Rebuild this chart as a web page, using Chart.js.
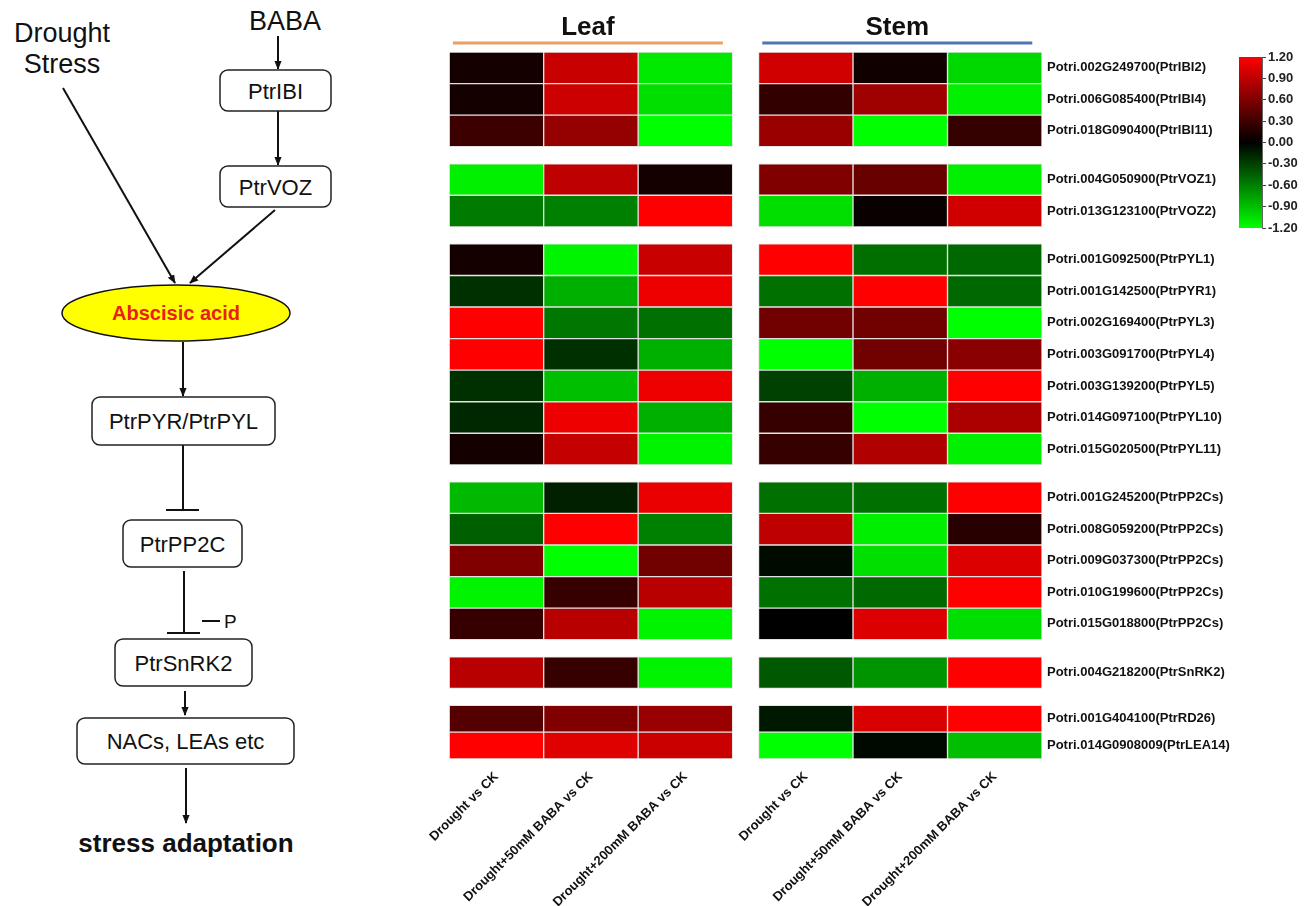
<!DOCTYPE html>
<html>
<head>
<meta charset="utf-8">
<script src="https://cdn.jsdelivr.net/npm/chart.js@4.4.1/dist/chart.umd.min.js"></script>
<style>
  body { margin: 0; background: #fff; width: 1311px; height: 906px; overflow: hidden; position: relative; font-family: 'Liberation Sans', Arial, sans-serif; }
  #flow { position: absolute; left: 0; top: 0; }
  #heatBox { position: absolute; left: 420px; top: 0; width: 810px; height: 906px; }
  #scaleBox { position: absolute; left: 1225px; top: 45px; width: 86px; height: 195px; }
</style>
</head>
<body>

<svg id="flow" width="420" height="906" font-family="'Liberation Sans', Arial, sans-serif" fill="#111">
  <defs>
    <marker id="ah" viewBox="0 0 10 10" refX="9" refY="5" markerWidth="9" markerHeight="9" markerUnits="userSpaceOnUse" orient="auto">
      <path d="M0,1 L10,5 L0,9 z" fill="#111"/>
    </marker>
  </defs>
  <g stroke="#111" stroke-width="2" fill="none">
    <line x1="278" y1="36" x2="278" y2="69" marker-end="url(#ah)"/>
    <line x1="278" y1="111" x2="278" y2="165" marker-end="url(#ah)"/>
    <line x1="63" y1="88" x2="175" y2="283" marker-end="url(#ah)"/>
    <line x1="275" y1="210" x2="190" y2="283" marker-end="url(#ah)"/>
    <line x1="183" y1="342" x2="183" y2="396" marker-end="url(#ah)"/>
    <line x1="183" y1="445" x2="183" y2="510"/>
    <line x1="166" y1="510" x2="199" y2="510"/>
    <line x1="184" y1="571" x2="184" y2="633"/>
    <line x1="167" y1="633" x2="200" y2="633"/>
    <line x1="202" y1="621" x2="220" y2="621"/>
    <line x1="185" y1="691" x2="185" y2="715" marker-end="url(#ah)"/>
    <line x1="186" y1="768" x2="186" y2="823" marker-end="url(#ah)"/>
  </g>
  <g stroke="#222" stroke-width="1.5" fill="#fff">
    <rect x="220" y="70" width="111" height="41" rx="8"/>
    <rect x="220" y="166" width="111" height="41" rx="8"/>
    <rect x="92" y="397" width="183" height="48" rx="8"/>
    <rect x="123" y="520" width="119" height="47" rx="8"/>
    <rect x="115" y="639" width="137" height="47" rx="8"/>
    <rect x="77" y="718" width="217" height="46" rx="8"/>
    <ellipse cx="176" cy="313" rx="114" ry="28" fill="#ffff00" stroke="#111"/>
  </g>
  <g font-size="27" text-anchor="middle">
    <text x="62" y="42">Drought</text>
    <text x="62" y="73">Stress</text>
    <text x="285" y="30">BABA</text>
  </g>
  <g font-size="22" text-anchor="middle">
    <text x="275.5" y="98.5">PtrIBI</text>
    <text x="275.5" y="194.5">PtrVOZ</text>
    <text x="183.5" y="429">PtrPYR/PtrPYL</text>
    <text x="182.5" y="551.5">PtrPP2C</text>
    <text x="183.5" y="670.5">PtrSnRK2</text>
    <text x="185.5" y="749">NACs, LEAs etc</text>
  </g>
  <text x="224" y="628" font-size="19">P</text>
  <text x="176" y="320" font-size="20" font-weight="bold" fill="#e8201a" text-anchor="middle">Abscisic acid</text>
  <text x="186" y="852" font-size="26" font-weight="bold" text-anchor="middle">stress adaptation</text>
</svg>

<div id="heatBox"><canvas id="heat"></canvas></div>
<div id="scaleBox"><canvas id="scale"></canvas></div>

<script>
// gene rows, top to bottom
const genes = [
  'Potri.002G249700(PtrIBI2)', 'Potri.006G085400(PtrIBI4)', 'Potri.018G090400(PtrIBI11)',
  'Potri.004G050900(PtrVOZ1)', 'Potri.013G123100(PtrVOZ2)',
  'Potri.001G092500(PtrPYL1)', 'Potri.001G142500(PtrPYR1)', 'Potri.002G169400(PtrPYL3)',
  'Potri.003G091700(PtrPYL4)', 'Potri.003G139200(PtrPYL5)', 'Potri.014G097100(PtrPYL10)',
  'Potri.015G020500(PtrPYL11)',
  'Potri.001G245200(PtrPP2Cs)', 'Potri.008G059200(PtrPP2Cs)', 'Potri.009G037300(PtrPP2Cs)',
  'Potri.010G199600(PtrPP2Cs)', 'Potri.015G018800(PtrPP2Cs)',
  'Potri.004G218200(PtrSnRK2)',
  'Potri.001G404100(PtrRD26)', 'Potri.014G0908009(PtrLEA14)'
];
const groupSizes = [3, 2, 7, 5, 1, 2];
const conditions = ['Drought vs CK', 'Drought+50mM BABA vs CK', 'Drought+200mM BABA vs CK'];
const tissues = ['Leaf', 'Stem'];

// log2 fold change per gene: [Drought, +50mM BABA, +200mM BABA]
const leafValues = [
  [0.1, 0.94, -1.1], [0.1, 0.96, -1.05], [0.28, 0.7, -1.2],
  [-1.13, 0.9, 0.1], [-0.58, -0.6, 1.2],
  [0.1, -1.15, 0.94], [-0.22, -0.83, 1.12], [1.2, -0.56, -0.53], [1.2, -0.22, -0.83],
  [-0.22, -0.9, 1.12], [-0.19, 1.12, -0.83], [0.1, 0.92, -1.15],
  [-0.87, -0.15, 1.1], [-0.45, 1.2, -0.6], [0.6, -1.2, 0.53], [-1.15, 0.26, 0.87], [0.26, 0.87, -1.15],
  [0.87, 0.26, -1.15],
  [0.4, 0.6, 0.72], [1.2, 1.05, 0.95]
];
const stemValues = [
  [0.98, 0.08, -1.02], [0.24, 0.75, -1.13], [0.72, -1.2, 0.25],
  [0.6, 0.49, -1.13], [-1.05, 0.04, 0.98],
  [1.2, -0.52, -0.49], [-0.53, 1.2, -0.49], [0.53, 0.53, -1.2], [-1.2, 0.53, 0.65],
  [-0.3, -0.83, 1.2], [0.26, -1.2, 0.8], [0.26, 0.83, -1.13],
  [-0.53, -0.53, 1.2], [0.9, -1.12, 0.19], [-0.05, -1.05, 1.04], [-0.53, -0.5, 1.2], [0, 1.04, -1.05],
  [-0.42, -0.7, 1.2],
  [-0.11, 1.02, 1.2], [-1.2, -0.04, -0.9]
];
const colorTicks = [1.2, 0.9, 0.6, 0.3, 0.0, -0.3, -0.6, -0.9, -1.2];

const FONT = "'Liberation Sans', Arial, sans-serif";
const vmax = colorTicks[0];

function valueColor(v) {
  var t = Math.max(-1, Math.min(1, v / vmax));
  if (t >= 0) return 'rgb(' + Math.round(255 * t) + ',0,0)';
  return 'rgb(0,' + Math.round(-255 * t) + ',0)';
}

// row layout in y units (1 unit per row, small gap between families)
const gap = 0.54;
const rowTops = [], rowBottoms = [];
var yPos = 0, k = 0;
groupSizes.forEach(function (n, g) {
  var h = g === groupSizes.length - 1 ? 0.85 : 1;
  for (var i = 0; i < n; i++) {
    rowTops[k] = yPos; rowBottoms[k] = yPos + h;
    yPos += h; k++;
  }
  if (g < groupSizes.length - 1) yPos += gap;
});
const yMax = yPos;
const rowCenters = rowTops.map(function (t, i) { return (t + rowBottoms[i]) / 2; });

// column layout in x units
const panelStart = [0, 3.274];
const colCenters = [], colLabels = [];
panelStart.forEach(function (s) {
  conditions.forEach(function (c, j) { colCenters.push(s + j + 0.5); colLabels.push(c); });
});

const cells = [];
[leafValues, stemValues].forEach(function (vals, p) {
  vals.forEach(function (row, r) {
    row.forEach(function (v, j) {
      cells.push({ x: panelStart[p] + j + 0.5, y: [rowTops[r], rowBottoms[r]], v: v });
    });
  });
});

const panelTitles = {
  id: 'panelTitles',
  afterDraw(chart) {
    const ctx = chart.ctx, x = chart.scales.x;
    const lineColors = ['#e8a064', '#4f76b4'];
    ctx.save();
    tissues.forEach(function (name, p) {
      var l = x.getPixelForValue(panelStart[p]), r = x.getPixelForValue(panelStart[p] + 3);
      var cx = (l + r) / 2 - 3;
      ctx.fillStyle = '#111';
      ctx.font = 'bold 26px ' + FONT;
      ctx.textAlign = 'center';
      ctx.textBaseline = 'alphabetic';
      ctx.fillText(name, cx, 35);
      ctx.strokeStyle = lineColors[p];
      ctx.lineWidth = 3;
      ctx.beginPath();
      ctx.moveTo(cx - 135, 43);
      ctx.lineTo(cx + 135, 43);
      ctx.stroke();
    });
    ctx.restore();
  }
};

new Chart(document.getElementById('heat'), {
  type: 'bar',
  data: {
    datasets: [{
      data: cells,
      backgroundColor: function (c) { return c.raw ? valueColor(c.raw.v) : '#000'; },
      borderColor: 'rgba(225,225,225,0.9)',
      borderWidth: 1,
      borderSkipped: false,
      barPercentage: 1,
      categoryPercentage: 1
    }]
  },
  options: {
    responsive: true,
    maintainAspectRatio: false,
    animation: false,
    events: [],
    layout: { autoPadding: false, padding: { left: 26, top: 52, right: 0, bottom: 0 } },
    plugins: { legend: { display: false }, tooltip: { enabled: false } },
    scales: {
      x: {
        type: 'linear', min: 0, max: panelStart[1] + 3, offset: false, bounds: 'data',
        grid: { display: false, drawTicks: false }, border: { display: false },
        afterBuildTicks: function (s) { s.ticks = colCenters.map(function (v) { return { value: v }; }); },
        afterFit: function (s) { s.height = 147; },
        ticks: {
          autoSkip: false, minRotation: 45, maxRotation: 45, padding: 10,
          color: '#111', font: { family: FONT, size: 13, weight: 'bold' },
          callback: function (v, i) { return colLabels[i]; }
        }
      },
      y: {
        type: 'linear', reverse: true, min: 0, max: yMax, position: 'right', bounds: 'data',
        grid: { display: false, drawTicks: false }, border: { display: false },
        afterBuildTicks: function (s) { s.ticks = rowCenters.map(function (v) { return { value: v }; }); },
        afterFit: function (s) { s.width = 188; },
        ticks: {
          autoSkip: false, padding: 5,
          color: '#111', font: { family: FONT, size: 13, weight: 'bold' },
          callback: function (v, i) { return genes[i]; }
        }
      }
    }
  },
  plugins: [panelTitles]
});

// colour key
new Chart(document.getElementById('scale'), {
  type: 'bar',
  data: {
    labels: [''],
    datasets: [{
      data: [[colorTicks[colorTicks.length - 1], colorTicks[0]]],
      backgroundColor: function (c) {
        const area = c.chart.chartArea;
        if (!area) return '#000';
        const g = c.chart.ctx.createLinearGradient(0, area.bottom, 0, area.top);
        g.addColorStop(0, valueColor(-vmax));
        g.addColorStop(0.5, valueColor(0));
        g.addColorStop(1, valueColor(vmax));
        return g;
      },
      borderWidth: 0,
      barPercentage: 1,
      categoryPercentage: 1
    }]
  },
  options: {
    responsive: true,
    maintainAspectRatio: false,
    animation: false,
    events: [],
    layout: { autoPadding: false, padding: { left: 14, top: 12, bottom: 12, right: 0 } },
    plugins: { legend: { display: false }, tooltip: { enabled: false } },
    scales: {
      x: { display: false },
      y: {
        position: 'right', min: -vmax, max: vmax, bounds: 'data',
        grid: { drawOnChartArea: false, tickLength: 4, color: '#444' },
        border: { display: true, color: '#666' },
        afterBuildTicks: function (s) { s.ticks = colorTicks.map(function (v) { return { value: v }; }); },
        afterFit: function (s) { s.width = 49; },
        ticks: {
          autoSkip: false, padding: 2, color: '#222',
          font: { family: FONT, size: 13, weight: 'bold' },
          callback: function (v) { return v.toFixed(2); }
        }
      }
    }
  }
});
</script>
</body>
</html>
